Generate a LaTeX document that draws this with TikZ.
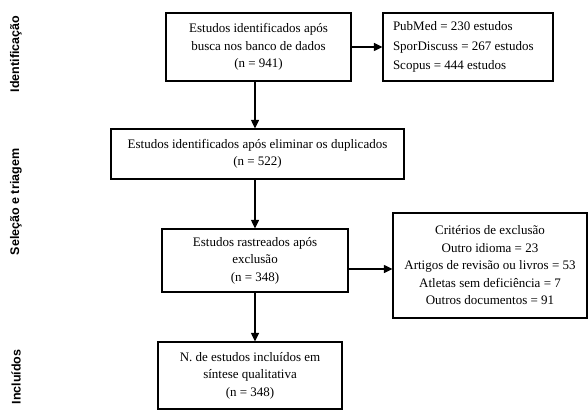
\documentclass[tikz,border=0pt]{standalone}
\usepackage{fontspec}
\setmainfont{Liberation Serif}
\newfontfamily\sidefont{Liberation Sans}
\usetikzlibrary{arrows.meta}
\begin{document}
\begin{tikzpicture}[x=1pt,y=1pt,
  box/.style={draw, line width=1.2pt, inner sep=0pt, align=center,
    font=\fontsize{13}{17.5}\selectfont},
  side/.style={rotate=90, font=\sidefont\bfseries\fontsize{12.5}{14}\selectfont, inner sep=0pt},
  arr/.style={line width=1.2pt, -{Triangle[length=8.5pt,width=8pt]}}]
\useasboundingbox (0,0) rectangle (588,410);
\node[box, minimum width=185pt, minimum height=68pt] (b1) at (258.5,363)
  {Estudos identificados após\\busca nos banco de dados\\(n = 941)};
\node[box, minimum width=170pt, minimum height=68pt, align=left, font=\fontsize{13}{19.5}\selectfont] (pub) at (468,363)
  {\makebox[150pt][l]{PubMed = 230 estudos}\\SporDiscuss = 267 estudos\\Scopus = 444 estudos};
\node[box, minimum width=293pt, minimum height=50pt] (b2) at (257.5,256)
  {Estudos identificados após eliminar os duplicados\\(n = 522)};
\node[box, minimum width=186pt, minimum height=63pt] (b3) at (255,149.5)
  {Estudos rastreados após\\exclusão\\(n = 348)};
\node[box, minimum width=194pt, minimum height=105pt] (ex) at (490,144.5)
  {Critérios de exclusão\\Outro idioma = 23\\Artigos de revisão ou livros = 53\\Atletas sem deficiência = 7\\Outros documentos = 91};
\node[box, minimum width=184pt, minimum height=67pt] (b4) at (250,34.5)
  {N. de estudos incluídos em\\síntese qualitativa\\(n = 348)};
\coordinate (ax) at (255,0);
\coordinate (ay) at (0,141);
\draw[arr] (b1.south -| ax) -- (b2.north -| ax);
\draw[arr] (b2.south -| ax) -- (b3.north -| ax);
\draw[arr] (b3.south -| ax) -- (b4.north -| ax);
\draw[arr] (b1.east) -- (pub.west);
\draw[arr] (b3.east |- ay) -- (ex.west |- ay);
\node[side] (s1) at (16,356) {Identificação};
\node[side] (s2) at (16,208) {Seleção e triagem};
\node[side] (s3) at (16,33) {Incluídos};
\end{tikzpicture}
\end{document}
